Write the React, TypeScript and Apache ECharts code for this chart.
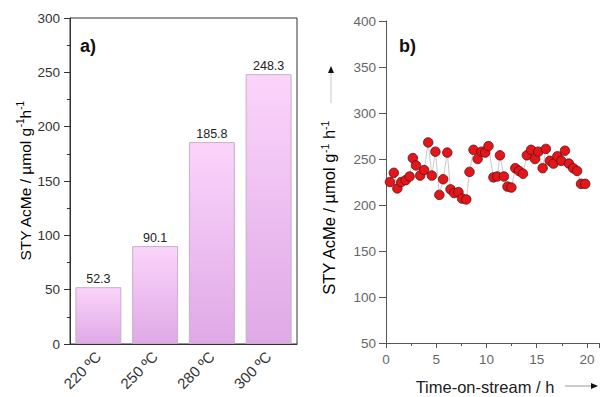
import React, { useEffect, useRef } from "react";
import * as echarts from "echarts";

const categories = ["220 ºC", "250 ºC", "280 ºC", "300 ºC"];
const styValues = [52.3, 90.1, 185.8, 248.3];

const timeOnStream = [
  0.39, 0.78, 1.13, 1.52, 1.96, 2.35, 2.67, 2.99, 3.4, 3.8, 4.2, 4.56, 4.92,
  5.31, 5.69, 6.1, 6.42, 6.79, 7.21, 7.57, 7.99, 8.31, 8.71, 9.12, 9.51, 9.87,
  10.2, 10.69, 11.08, 11.34, 11.74, 12.09, 12.48, 12.87, 13.24, 13.63, 14.02,
  14.44, 14.83, 15.17, 15.59, 15.91, 16.3, 16.67, 17.06, 17.45, 17.81, 18.21,
  18.63, 19.02, 19.41, 19.83,
];
const styTime = [
  225, 235, 218, 225, 227, 231, 251, 243, 232, 238, 268, 232, 258, 211, 228,
  257, 217, 213, 214, 207, 206, 236, 260, 250, 258, 257, 264, 230, 231, 254,
  231, 220, 219, 240, 237, 234, 254, 260, 250, 258, 240, 261, 248, 245, 253,
  248, 259, 245, 240, 237, 223, 223,
];

const yTicksA = { min: 0, max: 300, interval: 50 };
const yTicksB = { min: 50, max: 400, interval: 50 };
const xTicksB = { min: 0, max: 21.2, interval: 5 };

const FONT = "Liberation Sans, Arial, sans-serif";

export default function App() {
  const ref = useRef<HTMLDivElement>(null);
  useEffect(() => {
    document.body.style.margin = "0";
    const chart = echarts.init(ref.current!, null, { renderer: "svg" });
    const supRich = {
      n: { fontSize: 15.5, fontFamily: FONT, color: "#222", lineHeight: 20 },
      s: { fontSize: 10, fontFamily: FONT, color: "#222", verticalAlign: "top", lineHeight: 12 },
    };
    const supRichB = {
      n: { fontSize: 16.5, fontFamily: FONT, color: "#222", lineHeight: 20 },
      s: { fontSize: 10.5, fontFamily: FONT, color: "#222", verticalAlign: "top", lineHeight: 12 },
    };
    chart.setOption({
      animation: false,
      textStyle: { fontFamily: FONT },
      grid: [
        { left: 70, top: 18, width: 227, height: 326, show: true, borderColor: "#333", borderWidth: 1, backgroundColor: "transparent" },
        { left: 386, top: 21, width: 216, height: 322 },
      ],
      xAxis: [
        {
          type: "category",
          gridIndex: 0,
          data: categories,
          axisLine: { lineStyle: { color: "#333", width: 1 } },
          axisTick: { alignWithLabel: true, length: 5, lineStyle: { color: "#333" } },
          axisLabel: { rotate: 45, fontSize: 15, color: "#333", margin: 10, fontFamily: FONT },
        },
        {
          type: "value",
          gridIndex: 1,
          min: xTicksB.min,
          max: xTicksB.max,
          interval: xTicksB.interval,
          splitLine: { show: false },
          axisLine: { lineStyle: { color: "#555", width: 1 } },
          axisTick: { length: 5, lineStyle: { color: "#555" } },
          minorTick: { show: true, splitNumber: 2, length: 3, lineStyle: { color: "#555" } },
          axisLabel: {
            fontSize: 13.5,
            color: "#666",
            margin: 9,
            fontFamily: FONT,
            formatter: (v: number) => (v % 5 === 0 ? String(v) : ""),
          },
        },
      ],
      yAxis: [
        {
          type: "value",
          gridIndex: 0,
          min: yTicksA.min,
          max: yTicksA.max,
          interval: yTicksA.interval,
          splitLine: { show: false },
          axisLine: { show: true, lineStyle: { color: "#333", width: 1 } },
          axisTick: { show: true, length: 6, lineStyle: { color: "#333" } },
          minorTick: { show: true, splitNumber: 2, length: 3, lineStyle: { color: "#333" } },
          axisLabel: { fontSize: 13.5, color: "#333", margin: 10, fontFamily: FONT },
        },
        {
          type: "value",
          gridIndex: 1,
          min: yTicksB.min,
          max: yTicksB.max,
          interval: yTicksB.interval,
          splitLine: { show: false },
          axisLine: { show: true, lineStyle: { color: "#555", width: 1 } },
          axisTick: { show: true, length: 7, lineStyle: { color: "#555" } },
          axisLabel: { fontSize: 13.5, color: "#666", margin: 10, fontFamily: FONT },
        },
      ],
      series: [
        {
          type: "bar",
          xAxisIndex: 0,
          yAxisIndex: 0,
          data: styValues,
          barCategoryGap: "19%",
          itemStyle: {
            color: new echarts.graphic.LinearGradient(0, 0, 0, 1, [
              { offset: 0, color: "#fbd4fb" },
              { offset: 1, color: "#dfa9e6" },
            ]),
            borderColor: "#c6b0c6",
            borderWidth: 1,
          },
          label: {
            show: true,
            position: "top",
            distance: 2,
            fontSize: 12.5,
            color: "#222",
            fontFamily: FONT,
            formatter: (p: any) => p.value.toFixed(1),
          },
        },
        {
          type: "line",
          xAxisIndex: 1,
          yAxisIndex: 1,
          data: timeOnStream.map((t, i) => [t, styTime[i]]),
          symbol: "circle",
          symbolSize: 9.5,
          lineStyle: { color: "#bbbbbb", width: 0.8 },
          itemStyle: { color: "#e3161b", borderColor: "#5a1010", borderWidth: 0.8 },
        },
      ],
      graphic: [
        { type: "text", left: 80, top: 37, style: { text: "a)", font: `bold 18px ${FONT}`, fill: "#111" } },
        { type: "text", left: 399, top: 37, style: { text: "b)", font: `bold 18px ${FONT}`, fill: "#111" } },
        {
          type: "text",
          x: 25,
          y: 181,
          rotation: Math.PI / 2,
          style: {
            text: "{n|STY AcMe / µmol g}{s|-1}{n|h}{s|-1}",
            rich: supRich,
            align: "center",
            verticalAlign: "middle",
          },
        },
        {
          type: "text",
          x: 329,
          y: 208,
          rotation: Math.PI / 2,
          style: {
            text: "{n|STY AcMe / µmol g}{s|-1}{n| h}{s|-1}",
            rich: supRichB,
            align: "center",
            verticalAlign: "middle",
          },
        },
        {
          type: "text",
          x: 485,
          y: 387,
          style: {
            text: "Time-on-stream / h",
            font: `16.5px ${FONT}`,
            fill: "#222",
            align: "center",
            verticalAlign: "middle",
          },
        },
        { type: "line", shape: { x1: 331, y1: 103, x2: 331, y2: 72 }, style: { stroke: "#c8c8c8", lineWidth: 1 } },
        { type: "polygon", shape: { points: [[331, 66], [328, 73], [334, 73]] }, style: { fill: "#111" } },
        { type: "line", shape: { x1: 565, y1: 386, x2: 592, y2: 386 }, style: { stroke: "#999", lineWidth: 1 } },
        { type: "polygon", shape: { points: [[598, 386], [591, 383], [591, 389]] }, style: { fill: "#111" } },
      ],
    });
    return () => chart.dispose();
  }, []);
  return <div ref={ref} style={{ width: 602, height: 397 }} />;
}
